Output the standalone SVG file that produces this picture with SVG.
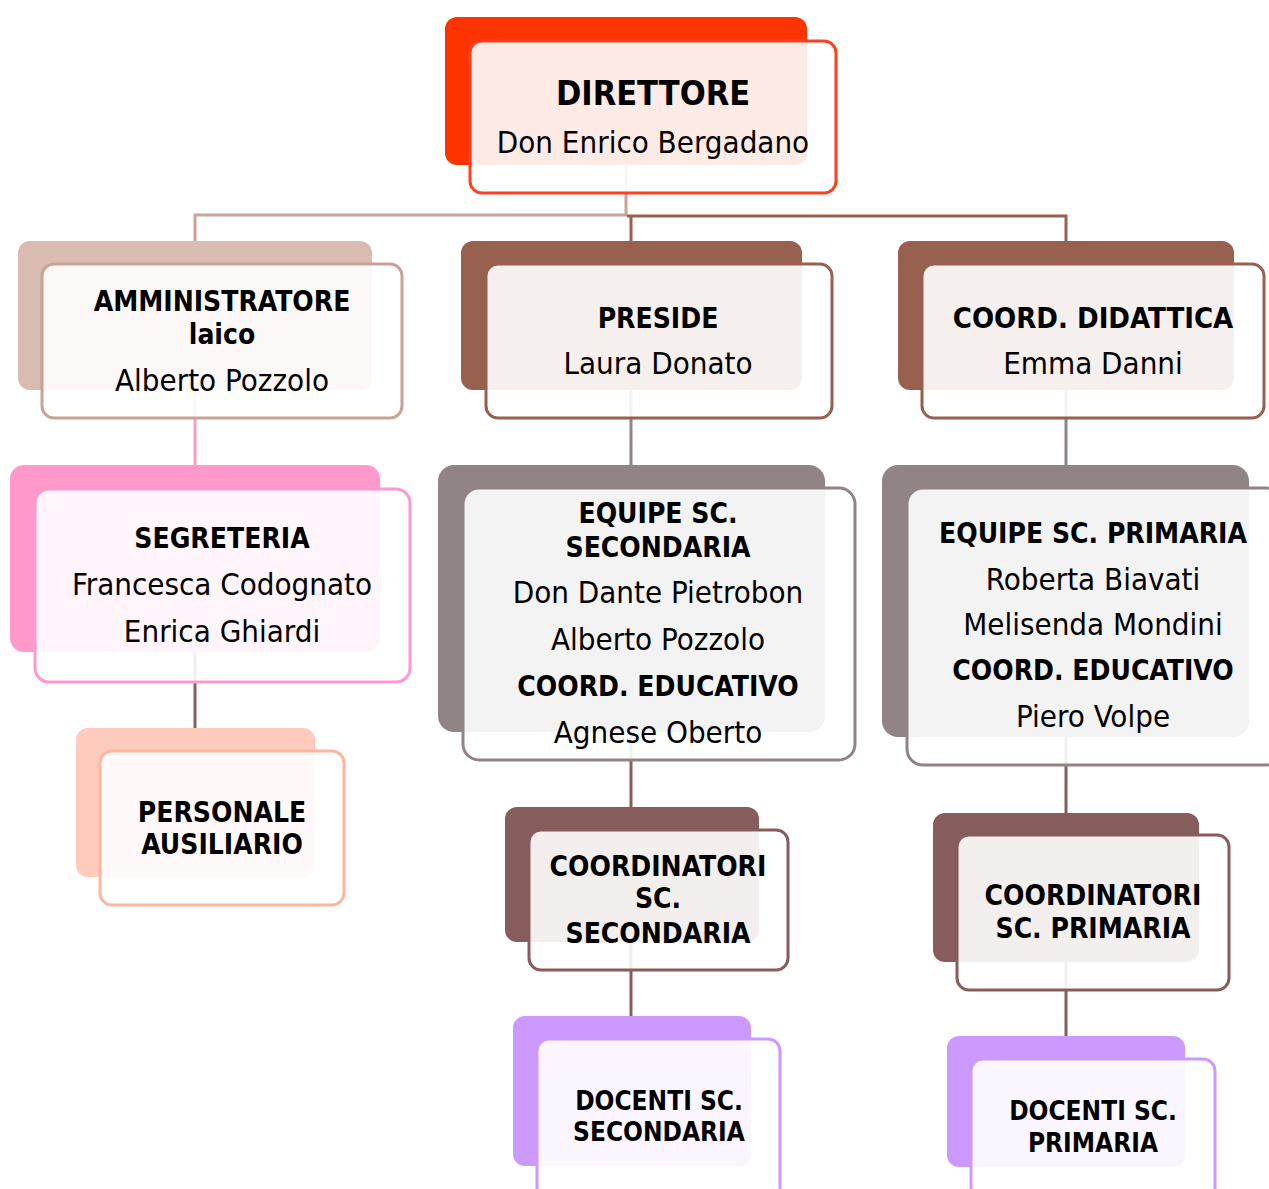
<svg xmlns="http://www.w3.org/2000/svg" width="1269" height="1189" viewBox="0 0 1269 1189">
<style>
text{font-family:"DejaVu Sans Condensed","DejaVu Sans",sans-serif;font-stretch:condensed;text-anchor:middle;fill:#000}
.b{font-weight:bold;font-size:28px}
.r{font-size:31px}
.c{fill:none;stroke-width:3}
.front{fill:#fff;fill-opacity:0.9;stroke-width:3}
.red .bk{fill:#FF3300}.red .front{stroke:#FF4020}
.tan .bk{fill:#D8BBB1}.tan .front{stroke:#C8A295}
.brn .bk{fill:#98614F}.brn .front{stroke:#98614F}
.pnk .bk{fill:#FF99CC}.pnk .front{stroke:#FF99CC}
.sal .bk{fill:#FFCBBD}.sal .front{stroke:#FFB5A2}
.gry .bk{fill:#918484}.gry .front{stroke:#918484}
.mar .bk{fill:#875C5C}.mar .front{stroke:#875C5C}
.vio .bk{fill:#CC99FF}.vio .front{stroke:#CC99FF}
</style>
<rect width="1269" height="1189" fill="#fff"/>
<g id="connectors">
<path class="c" stroke="#C9A396" d="M626,165 V215 H195 V241"/>
<path class="c" stroke="#98614F" d="M627,216 H1066 V241 M631,216 V241"/>
<path class="c" stroke="#FF99CC" d="M195,390 V465"/>
<path class="c" stroke="#86605E" d="M195,652 V728"/>
<path class="c" stroke="#918484" d="M631,390 V465 M1066,390 V465"/>
<path class="c" stroke="#875C5C" d="M631,732 V807 M631,942 V1016 M1066,737 V813 M1066,962 V1036"/>
</g>
<g id="direttore" class="red">
<rect class="bk" x="445" y="17" width="362" height="148" rx="12"/>
<rect class="front" x="470" y="41" width="366" height="152" rx="12"/>
<text class="b" x="653" y="105" style="font-size:34px">DIRETTORE</text>
<text class="r" x="653" y="153">Don Enrico Bergadano</text>
</g>
<g id="amministratore" class="tan">
<rect class="bk" x="18" y="241" width="354" height="149" rx="12"/>
<rect class="front" x="42" y="264" width="360" height="154" rx="12"/>
<text class="b" x="222" y="311">AMMINISTRATORE</text>
<text class="b" x="222" y="344">laico</text>
<text class="r" x="222" y="391">Alberto Pozzolo</text>
</g>
<g id="preside" class="brn">
<rect class="bk" x="461" y="241" width="341" height="149" rx="12"/>
<rect class="front" x="486" y="264" width="346" height="154" rx="12"/>
<text class="b" x="658" y="328">PRESIDE</text>
<text class="r" x="658" y="374">Laura Donato</text>
</g>
<g id="coord-didattica" class="brn">
<rect class="bk" x="898" y="241" width="336" height="149" rx="12"/>
<rect class="front" x="922" y="264" width="342" height="154" rx="12"/>
<text class="b" x="1093" y="328" style="font-size:29px">COORD. DIDATTICA</text>
<text class="r" x="1093" y="374">Emma Danni</text>
</g>
<g id="segreteria" class="pnk">
<rect class="bk" x="10" y="465" width="370" height="187" rx="14"/>
<rect class="front" x="35" y="489" width="375" height="193" rx="14"/>
<text class="b" x="222" y="548">SEGRETERIA</text>
<text class="r" x="222" y="595">Francesca Codognato</text>
<text class="r" x="222" y="642">Enrica Ghiardi</text>
</g>
<g id="personale" class="sal">
<rect class="bk" x="76" y="728" width="239" height="149" rx="12"/>
<rect class="front" x="100" y="751" width="244" height="154" rx="12"/>
<text class="b" x="222" y="822">PERSONALE</text>
<text class="b" x="222" y="854">AUSILIARIO</text>
</g>
<g id="equipe-secondaria" class="gry">
<rect class="bk" x="438" y="465" width="387" height="267" rx="16"/>
<rect class="front" x="463" y="488" width="392" height="272" rx="16"/>
<text class="b" x="658" y="523">EQUIPE SC.</text>
<text class="b" x="658" y="557">SECONDARIA</text>
<text class="r" x="658" y="603">Don Dante Pietrobon</text>
<text class="r" x="658" y="650">Alberto Pozzolo</text>
<text class="b" x="658" y="696">COORD. EDUCATIVO</text>
<text class="r" x="658" y="743">Agnese Oberto</text>
</g>
<g id="equipe-primaria" class="gry">
<rect class="bk" x="882" y="465" width="367" height="272" rx="16"/>
<rect class="front" x="907" y="488" width="375" height="277" rx="16"/>
<text class="b" x="1093" y="543">EQUIPE SC. PRIMARIA</text>
<text class="r" x="1093" y="590">Roberta Biavati</text>
<text class="r" x="1093" y="635">Melisenda Mondini</text>
<text class="b" x="1093" y="680">COORD. EDUCATIVO</text>
<text class="r" x="1093" y="727">Piero Volpe</text>
</g>
<g id="coordinatori-secondaria" class="mar">
<rect class="bk" x="505" y="807" width="254" height="135" rx="12"/>
<rect class="front" x="529" y="830" width="259" height="140" rx="12"/>
<text class="b" x="658" y="876">COORDINATORI</text>
<text class="b" x="658" y="908">SC.</text>
<text class="b" x="658" y="943">SECONDARIA</text>
</g>
<g id="coordinatori-primaria" class="mar">
<rect class="bk" x="933" y="813" width="266" height="149" rx="12"/>
<rect class="front" x="957" y="835" width="272" height="155" rx="12"/>
<text class="b" x="1093" y="905">COORDINATORI</text>
<text class="b" x="1093" y="938">SC. PRIMARIA</text>
</g>
<g id="docenti-secondaria" class="vio">
<rect class="bk" x="513" y="1016" width="238" height="150" rx="12"/>
<rect class="front" x="537" y="1039" width="243" height="160" rx="12"/>
<text class="b" x="659" y="1110" style="font-size:26px">DOCENTI SC.</text>
<text class="b" x="659" y="1141" style="font-size:26px">SECONDARIA</text>
</g>
<g id="docenti-primaria" class="vio">
<rect class="bk" x="947" y="1036" width="238" height="131" rx="12"/>
<rect class="front" x="971" y="1059" width="244" height="140" rx="12"/>
<text class="b" x="1093" y="1120" style="font-size:26px">DOCENTI SC.</text>
<text class="b" x="1093" y="1152" style="font-size:26px">PRIMARIA</text>
</g>
</svg>
